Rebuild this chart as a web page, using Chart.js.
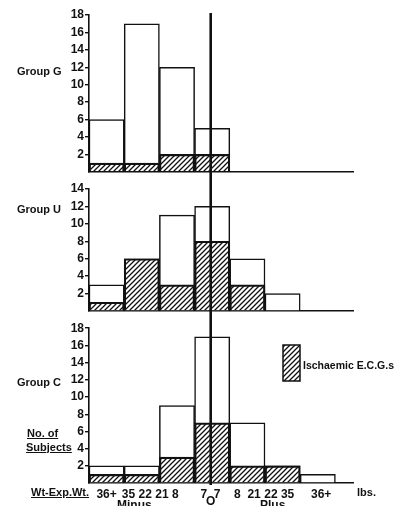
<!DOCTYPE html>
<html>
<head>
<meta charset="utf-8">
<script src="https://cdn.jsdelivr.net/npm/chart.js@4.4.0/dist/chart.umd.min.js"></script>
<style>
  html, body { margin: 0; padding: 0; background: #fff; }
  #page { position: relative; width: 399px; height: 506px; overflow: hidden;
          font-family: "Liberation Sans", Arial, sans-serif; font-weight: bold; color: #111; }
  .panel { position: absolute; left: 0; width: 399px; }
  .note { position: absolute; font-size: 11px; line-height: 11px; white-space: nowrap; }
  .ul { text-decoration: underline; }
</style>
</head>
<body>
<div id="page">
  <div class="panel" style="top:0;height:180px"><canvas id="chartG"></canvas></div>
  <div class="panel" style="top:180px;height:140px"><canvas id="chartU"></canvas></div>
  <div class="panel" style="top:320px;height:186px"><canvas id="chartC"></canvas></div>

  <div class="note" style="left:17px;top:66px">Group G</div>
  <div class="note" style="left:17px;top:204px">Group U</div>
  <div class="note" style="left:17px;top:377px">Group C</div>
  <div class="note ul" style="left:27px;top:428px">No. of</div>
  <div class="note ul" style="left:26px;top:442px">Subjects</div>
  <div class="note ul" style="left:31px;top:487px">Wt-Exp.Wt.</div>
  <div class="note" style="left:357px;top:487px">lbs.</div>
  <div class="note" style="left:206px;top:496px;font-size:12px">O</div>
  <div class="note" style="left:117px;top:500px;font-size:12px">Minus</div>
  <div class="note" style="left:260px;top:500px;font-size:12px">Plus</div>
</div>
<script>
// weight difference bins (lbs), minus side then plus side
const bins = ['36+', '35 22   ', '21 8      ', '7  7 ', '8  21', '22 35  ', '  36+'];
const zeroBin = 3;

const groupGTotal = [6, 17, 12, 5, 0, 0, 0];
const groupGIsch  = [1, 1, 2, 2, 0, 0, 0];
const groupUTotal = [3, 6, 11, 12, 6, 2, 0];
const groupUIsch  = [1, 6, 3, 8, 3, 0, 0];
const groupCTotal = [2, 2, 9, 17, 7, 2, 1];
const groupCIsch  = [1, 1, 3, 7, 2, 2, 0];

const yMaxG = 18;
const yMaxU = 14;
const yMaxC = 18;

const INK = '#111';
const tickFont = { family: '"Liberation Sans Narrow", "Liberation Sans", Arial, sans-serif', size: 12, weight: 'bold' };

const makeHatch = (ctx) => {
    const c = document.createElement('canvas');
    c.width = 5; c.height = 5;
    const p = c.getContext('2d');
    p.strokeStyle = INK;
    p.lineWidth = 1.3;
    p.beginPath();
    p.moveTo(0, 5); p.lineTo(5, 0);
    p.moveTo(-1, 1); p.lineTo(1, -1);
    p.moveTo(4, 6); p.lineTo(6, 4);
    p.stroke();
    return ctx.createPattern(c, 'repeat');
};

const toPoints = (values) => values.map((v, i) => ({ x: i, y: v }));

// the thick vertical line at 0 lbs, running through all three panels
const zeroLine = {
    id: 'zeroLine',
    afterDraw(chart, args, o) {
        const { ctx, chartArea } = chart;
        const x = chart.scales.x.getPixelForValue(zeroBin) - 1.5;
        const y0 = o.fromTop ? chartArea.top - 2 : 0;
        const y1 = o.toBottom ? chartArea.bottom + 2 : chart.height;
        ctx.save();
        ctx.strokeStyle = INK;
        ctx.lineWidth = 2.6;
        ctx.beginPath();
        ctx.moveTo(x, y0);
        ctx.lineTo(x, y1);
        ctx.stroke();
        ctx.restore();
    }
};

const legendBox = {
    id: 'legendBox',
    afterDraw(chart, args, o) {
        if (!o.show) return;
        const { ctx } = chart;
        const ds = chart.data.datasets[0];
        ctx.save();
        ctx.fillStyle = ds.backgroundColor;
        ctx.fillRect(o.x, o.y, o.w, o.h);
        ctx.strokeStyle = INK;
        ctx.lineWidth = 1.5;
        ctx.strokeRect(o.x, o.y, o.w, o.h);
        ctx.fillStyle = INK;
        ctx.font = 'bold 10.5px "Liberation Sans", Arial, sans-serif';
        ctx.textBaseline = 'middle';
        ctx.fillText(ds.label, o.x + o.w + 3, o.y + o.h * 0.6);
        ctx.restore();
    }
};

const makeChart = (id, totals, ischaemic, yMax, opt) => {
    const canvas = document.getElementById(id);
    const hatch = makeHatch(canvas.getContext('2d'));

    const config = {
        type: 'bar',
        data: {
            datasets: [
                {
                    label: 'Ischaemic E.C.G.s',
                    data: toPoints(ischaemic),
                    backgroundColor: hatch,
                    borderColor: INK,
                    borderWidth: 1.5,
                    order: 1
                },
                {
                    label: 'No. of Subjects',
                    data: toPoints(totals),
                    backgroundColor: '#fff',
                    borderColor: INK,
                    borderWidth: 1.5,
                    order: 2
                }
            ]
        },
        options: {
            responsive: true,
            maintainAspectRatio: false,
            animation: false,
            grouped: false,
            barPercentage: 1,
            categoryPercentage: 1,
            layout: { padding: { top: opt.padTop, bottom: opt.padBottom, left: 0, right: 46 } },
            plugins: {
                legend: { display: false },
                tooltip: { enabled: false },
                zeroLine: { fromTop: opt.fromTop, toBottom: opt.toBottom },
                legendBox: opt.legend || { show: false }
            },
            scales: {
                x: {
                    type: 'linear',
                    min: -0.5,
                    max: 7,
                    offset: false,
                    afterBuildTicks: (scale) => {
                        scale.ticks = bins.map((b, i) => ({ value: i }));
                    },
                    afterFit: (scale) => { scale.height = opt.xHeight; },
                    ticks: {
                        display: opt.showBins,
                        padding: 4,
                        color: INK,
                        font: tickFont,
                        maxRotation: 0,
                        autoSkip: false,
                        callback: (v) => bins[v]
                    },
                    grid: { display: true, offset: false, drawOnChartArea: false, drawTicks: false },
                    border: { display: true, color: INK, width: 1.6 }
                },
                y: {
                    min: 0,
                    max: yMax,
                    afterFit: (scale) => { scale.width = 89; },
                    ticks: {
                        stepSize: 2,
                        padding: 1,
                        autoSkip: false,
                        color: INK,
                        font: tickFont,
                        callback: (v) => v === 0 ? '' : v
                    },
                    grid: {
                        display: true,
                        drawOnChartArea: false,
                        drawTicks: true,
                        tickLength: 4,
                        lineWidth: 1.4,
                        color: (c) => c.tick && c.tick.value === 0 ? 'rgba(0,0,0,0)' : INK
                    },
                    border: { display: true, color: INK, width: 1.6 }
                }
            }
        },
        plugins: [zeroLine, legendBox]
    };

    return new Chart(canvas, config);
};

makeChart('chartG', groupGTotal, groupGIsch, yMaxG,
    { padTop: 15, padBottom: 7, xHeight: 0, showBins: false, fromTop: true, toBottom: false });
makeChart('chartU', groupUTotal, groupUIsch, yMaxU,
    { padTop: 9, padBottom: 9, xHeight: 0, showBins: false, fromTop: false, toBottom: false });
makeChart('chartC', groupCTotal, groupCIsch, yMaxC,
    { padTop: 7, padBottom: 0, xHeight: 23, showBins: true, fromTop: false, toBottom: true,
      legend: { show: true, x: 283, y: 25, w: 17, h: 36 } });
</script>
</body>
</html>
